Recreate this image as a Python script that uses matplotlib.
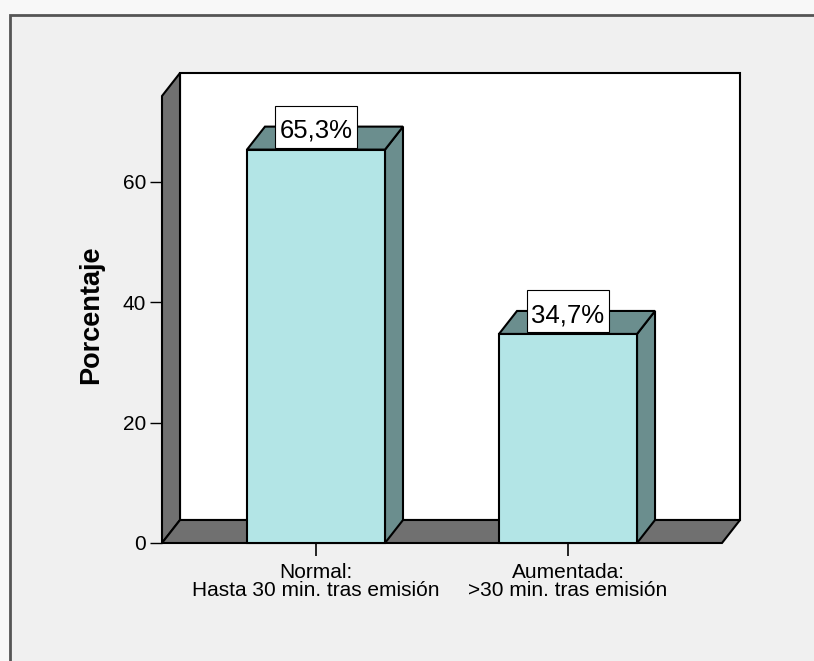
import matplotlib
matplotlib.use("Agg")
import matplotlib.pyplot as plt
from matplotlib.patches import Polygon, Rectangle
from matplotlib.path import Path

categories = ["Normal:\nHasta 30 min. tras emisión", "Aumentada:\n>30 min. tras emisión"]
values = [65.3, 34.7]
labels = ["65,3%", "34,7%"]
yticks = [0, 20, 40, 60]

W, H = 814, 661
FRONT = "#b3e5e6"
SIDE = "#6b8e8e"
WALL = "#707070"

plt.rcParams["font.family"] = ["Liberation Sans", "DejaVu Sans"]


def label_box(x0, y0, width, height, mutation_size):
    # box taller than wide padding, like the SPSS value labels
    ps = 0.16 * mutation_size
    pt = 0.5 * mutation_size
    pb = 0.2 * mutation_size
    l, r = x0 - ps, x0 + width + ps
    b, t = y0 - pb, y0 + height + pt
    return Path([(l, b), (r, b), (r, t), (l, t), (l, b)], closed=True)


fig = plt.figure(figsize=(W / 100, H / 100), dpi=100)
fig.patch.set_facecolor("#f8f8f8")
fig.patches.append(Rectangle((10 / W, -0.1), 1.0, (H - 15) / H + 0.1,
                             transform=fig.transFigure, fc="#f0f0f0",
                             ec="#555555", lw=2, zorder=-10))

ax = fig.add_axes([162 / W, (H - 543) / H, (722 - 162) / W, (543 - 96) / H])
x0, x1 = -0.611, 1.611
ymax = 74.2
ax.set_xlim(x0, x1)
ax.set_ylim(0, ymax)
ax.patch.set_visible(False)
for s in ax.spines.values():
    s.set_visible(False)

# depth of the 3d effect (data units)
dx = 18 / 252
dy = 23 / 6.025
bw = 138 / 252

kw = dict(clip_on=False, ec="black", lw=1.5, joinstyle="miter")
# back wall
ax.add_patch(Polygon([(x0 + dx, dy), (x1 + dx, dy), (x1 + dx, ymax + dy),
                      (x0 + dx, ymax + dy)], fc="white", zorder=1, **kw))
# left wall
ax.add_patch(Polygon([(x0, 0), (x0 + dx, dy), (x0 + dx, ymax + dy), (x0, ymax)],
                     fc=WALL, zorder=2, **kw))
# floor
ax.add_patch(Polygon([(x0, 0), (x1, 0), (x1 + dx, dy), (x0 + dx, dy)],
                     fc=WALL, zorder=2, **kw))

for i, v in enumerate(values):
    xl, xr = i - bw / 2, i + bw / 2
    ax.add_patch(Polygon([(xr, 0), (xr + dx, dy), (xr + dx, v + dy), (xr, v)],
                         fc=SIDE, zorder=3, **kw))
    ax.add_patch(Polygon([(xl, v), (xr, v), (xr + dx, v + dy), (xl + dx, v + dy)],
                         fc=SIDE, zorder=3, **kw))
    ax.add_patch(Rectangle((xl, 0), bw, v, fc=FRONT, zorder=4, **kw))
    ax.annotate(labels[i], (i, v), xytext=(0, 5), textcoords="offset points",
                ha="center", va="bottom", fontsize=18.5, zorder=6,
                bbox=dict(boxstyle=label_box, fc="white", ec="black", lw=0.8))

ax.set_yticks(yticks)
ax.set_yticklabels([str(t) for t in yticks])
ax.set_xticks(range(len(categories)))
ax.set_xticklabels(categories, linespacing=0.95)
ax.tick_params(axis="y", length=9, width=1, pad=2.5, labelsize=15)
ax.tick_params(axis="x", length=9, width=1.2, pad=5.5, labelsize=15)

fig.text(91 / W, 1 - 315 / H, "Porcentaje", rotation=90, ha="center",
         va="center", fontsize=19.5, fontweight="bold")

fig.savefig("out.png", dpi=100, facecolor=fig.get_facecolor())
